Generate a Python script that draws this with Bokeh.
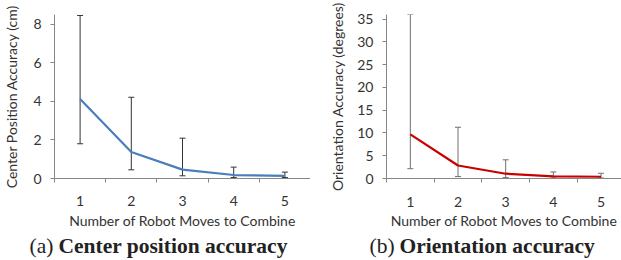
from bokeh.plotting import figure
from bokeh.models import (ColumnDataSource, FixedTicker, Whisker, TeeHead, Range1d)
from bokeh.layouts import row, column
from bokeh.core.properties import value
from bokeh.embed import file_html
from bokeh.resources import INLINE

moves = [1, 2, 3, 4, 5]
x_ticks = [1, 2, 3, 4, 5]
x_bounds = [0.5, 1.5, 2.5, 3.5, 4.5, 5.5]

pos_mean = [4.12, 1.37, 0.46, 0.18, 0.14]
pos_lo = [1.8, 0.45, 0.14, 0.05, 0.05]
pos_hi = [8.45, 4.21, 2.09, 0.59, 0.33]
pos_yticks = [0, 2, 4, 6, 8]

ori_mean = [9.7, 2.85, 1.05, 0.45, 0.38]
ori_lo = [2.15, 0.42, 0.2, 0.1, 0.1]
ori_hi = [36.0, 11.25, 4.1, 1.44, 1.15]
ori_yticks = [0, 5, 10, 15, 20, 25, 30, 35]

captions_tag = ["(a)", "(b)"]
captions_text = ["Center position accuracy", "Orientation accuracy"]

FONT = "Lato"
AXC = "#868686"
TXT = "#333333"
H = 232


def make(mean, lo, hi, yticks, y_end, x_end, color, err_color, ytitle,
         width, bl, bt, bb, title_std, xl_std, xt_std):
    src = ColumnDataSource(dict(x=moves, m=mean, lo=lo, hi=hi))
    p = figure(width=width, height=H, output_backend="svg", toolbar_location=None,
               x_range=Range1d(0.5, x_end), y_range=Range1d(0, y_end),
               min_border_left=bl, min_border_right=0, min_border_top=bt,
               min_border_bottom=bb)
    p.outline_line_color = None
    p.grid.visible = False

    w = Whisker(base="x", lower="lo", upper="hi", source=src,
                line_color=err_color, line_width=1,
                upper_head=TeeHead(size=6, line_color=err_color, line_width=1),
                lower_head=TeeHead(size=6, line_color=err_color, line_width=1))
    p.add_layout(w)
    p.line("x", "m", source=src, line_color=color, line_width=2.2)

    xa = p.xaxis[0]
    xa.ticker = FixedTicker(ticks=x_ticks, minor_ticks=x_bounds)
    xa.major_tick_out = 0
    xa.major_tick_in = 0
    xa.minor_tick_out = 4
    xa.minor_tick_in = 0
    xa.minor_tick_line_color = AXC
    xa.axis_line_color = AXC
    xa.major_label_standoff = xl_std
    xa.major_label_text_font = FONT
    xa.major_label_text_font_size = "14px"
    xa.major_label_text_color = TXT
    xa.axis_label = "Number of Robot Moves to Combine"
    xa.axis_label_text_font = FONT
    xa.axis_label_text_font_size = "14px"
    xa.axis_label_text_font_style = "normal"
    xa.axis_label_text_color = TXT
    xa.axis_label_standoff = xt_std

    ya = p.yaxis[0]
    ya.ticker = FixedTicker(ticks=yticks, minor_ticks=[])
    ya.major_tick_out = 4
    ya.major_tick_in = 0
    ya.major_tick_line_color = AXC
    ya.axis_line_color = AXC
    ya.major_label_standoff = 9
    ya.major_label_text_font = FONT
    ya.major_label_text_font_size = "14px"
    ya.major_label_text_color = TXT
    ya.axis_label = ytitle
    ya.axis_label_text_font = FONT
    ya.axis_label_text_font_size = "14px"
    ya.axis_label_text_font_style = "normal"
    ya.axis_label_text_color = TXT
    ya.axis_label_standoff = title_std
    return p


p1 = make(pos_mean, pos_lo, pos_hi, pos_yticks, 8.5, 5.5, "#4a7ebb", "#333333",
          "Center Position Accuracy (cm)", 310, 52, 8, 54, 10, 13, 3)
p2 = make(ori_mean, ori_lo, ori_hi, ori_yticks, 36.0, 5.43, "#c80000", "#6f6f6f",
          "Orientation Accuracy (degrees)", 311, 76, 14, 53, 8, 14, 2)

# caption strip
cap = figure(width=621, height=28, output_backend="svg", toolbar_location=None,
             x_range=Range1d(0, 621), y_range=Range1d(28, 0),
             min_border_left=0, min_border_right=0, min_border_top=0,
             min_border_bottom=0)
cap.axis.visible = False
cap.grid.visible = False
cap.outline_line_color = None
csrc_tag = ColumnDataSource(dict(x=[29, 369], y=[13, 13], t=captions_tag))
csrc_txt = ColumnDataSource(dict(x=[58, 399], y=[13, 13], t=captions_text))
cap.text("x", "y", text="t", source=csrc_tag, text_font=value("Liberation Serif"),
         text_font_size="21.5px", text_color="#222222", text_baseline="middle",
         text_align="left")
cap.text("x", "y", text="t", source=csrc_txt, text_font=value("Liberation Serif"),
         text_font_size="21.5px", text_font_style="bold", text_color="#222222",
         text_baseline="middle", text_align="left")

lay = column(row(p1, p2, spacing=0), cap, spacing=0)
open("out.html", "w").write(file_html(lay, INLINE))
